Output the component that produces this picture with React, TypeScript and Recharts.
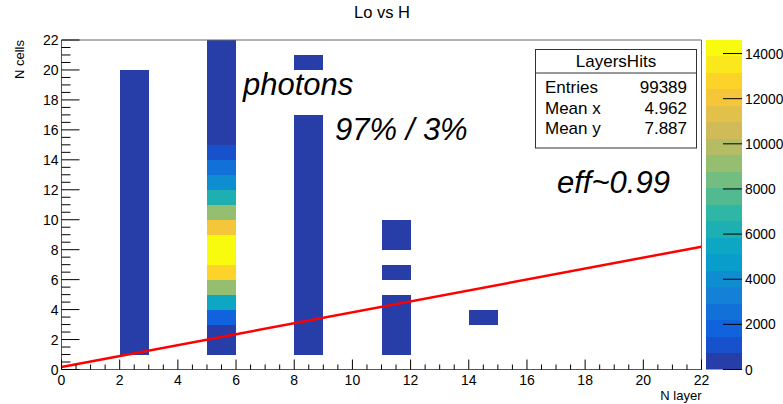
import React from 'react';
import { ComposedChart, BarChart, Bar, Line, XAxis, YAxis, ReferenceArea } from 'recharts';

// ---- data ----
const layerIndex = [2, 5, 8, 11, 14];
// hits per "N cells" bin (index = bin lower edge 0..21)
const hitsLayer2 = [0, 610, 640, 655, 630, 660, 645, 670, 650, 640, 625, 660, 635, 650, 620, 640, 615, 630, 600, 590, 0, 0];
const hitsLayer5 = [0, 300, 500, 1800, 5500, 9100, 12800, 14300, 14600, 12000, 9100, 6200, 4000, 2500, 1100, 520, 380, 260, 190, 120, 80, 40];
const hitsLayer8 = [0, 150, 140, 130, 120, 115, 110, 100, 95, 90, 85, 80, 70, 60, 50, 40, 30, 0, 0, 0, 12, 0];
const hitsLayer11 = [0, 40, 35, 30, 25, 0, 15, 0, 8, 6, 0, 0, 0, 0, 0, 0, 0, 0, 0, 0, 0, 0];
const hitsLayer14 = [0, 0, 0, 5, 0, 0, 0, 0, 0, 0, 0, 0, 0, 0, 0, 0, 0, 0, 0, 0, 0, 0];
const layerHits = [hitsLayer2, hitsLayer5, hitsLayer8, hitsLayer11, hitsLayer14];

const fitX = [0, 22];
const fitY = [0.17, 8.2];

const axisTicks = Array.from({ length: 45 }, (_, i) => i * 0.5);
const zTicks = [0, 2000, 4000, 6000, 8000, 10000, 12000, 14000];
const zMax = 14600;
const nContours = 20;

const statsName = 'LayersHits';
const statsLabels = ['Entries', 'Mean x', 'Mean y'];
const statsValues = ['99389', '4.962', '7.887'];

const FONT = '"Liberation Sans", Arial, Helvetica, sans-serif';

// ---- kBird palette ----
const birdStops = [0, 0.125, 0.25, 0.375, 0.5, 0.625, 0.75, 0.875, 1];
const birdR = [0.2082, 0.0592, 0.078, 0.0232, 0.1802, 0.5301, 0.8186, 0.9956, 0.9764];
const birdG = [0.1664, 0.3599, 0.5041, 0.6419, 0.7178, 0.7492, 0.7328, 0.7862, 0.9832];
const birdB = [0.5293, 0.8684, 0.8385, 0.7914, 0.6425, 0.4662, 0.3499, 0.1968, 0.0539];
function birdColor(p: number) {
  let i = 0;
  while (i < birdStops.length - 2 && p > birdStops[i + 1]) i++;
  const t = (p - birdStops[i]) / (birdStops[i + 1] - birdStops[i]);
  const c = (a: number[]) => Math.round(255 * (a[i] + (a[i + 1] - a[i]) * t));
  return `rgb(${c(birdR)},${c(birdG)},${c(birdB)})`;
}
function bandColor(k: number) {
  const idx = Math.floor((k + 0.99) * 255 / nContours);
  return birdColor(Math.min(idx, 254) / 254);
}
function zColor(z: number) {
  const k = Math.min(nContours - 1, Math.floor(z / (zMax / nContours)));
  return bandColor(k);
}

const cells: { x: number; y: number; z: number }[] = [];
layerHits.forEach((arr, li) => arr.forEach((z, b) => { if (z > 0) cells.push({ x: layerIndex[li], y: b, z }); }));

const lineData = fitX.map((x, i) => ({ x, y: fitY[i] }));

const bandKeys = Array.from({ length: nContours }, (_, k) => `b${k}`);
const barRow: any = { name: 'z' };
bandKeys.forEach((k) => { barRow[k] = zMax / nContours; });
const barData = [barRow];

// ---- ticks ----
const isMajor = (v: number) => Math.abs(v % 2) < 1e-9;
const YTick = (props: any) => {
  const { x, y, payload } = props;
  const v = payload.value;
  const m = isMajor(v);
  return (
    <g>
      <line x1={x} x2={x + (m ? 18 : 9)} y1={y} y2={y} stroke="#000" strokeWidth={1} />
      {m && <text x={x - 3} y={y + 5} textAnchor="end" fontSize={14} fontFamily={FONT} fill="#000">{v}</text>}
    </g>
  );
};
const XTick = (props: any) => {
  const { x, y, payload } = props;
  const v = payload.value;
  const m = isMajor(v);
  return (
    <g>
      <line x1={x} x2={x} y1={y} y2={y - (m ? 10 : 5)} stroke="#000" strokeWidth={1} />
      {m && <text x={x} y={y + 15} textAnchor="middle" fontSize={14} fontFamily={FONT} fill="#000">{v}</text>}
    </g>
  );
};
const ZTick = (props: any) => {
  const { x, y, payload } = props;
  return (
    <g>
      <line x1={x - 19} x2={x} y1={y} y2={y} stroke="#000" strokeWidth={1} />
      <text x={x + 3} y={y + 5} textAnchor="start" fontSize={13.8} fontFamily={FONT} fill="#000">{payload.value}</text>
    </g>
  );
};

export default function App() {
  return (
    <div style={{ position: 'absolute', left: 0, top: 0, width: 783, height: 404, background: '#fff', fontFamily: FONT }}>
      <div style={{ position: 'absolute', left: 0, top: 0 }}>
        <ComposedChart width={783} height={404} data={lineData}
          margin={{ top: 40, right: 81.5, bottom: 4.5, left: 11.5 }}>
          <XAxis dataKey="x" type="number" domain={[0, 22]} ticks={axisTicks} interval={0}
            allowDataOverflow height={30} tickSize={0} tickMargin={0} tick={<XTick />}
            axisLine={{ stroke: '#555' }} tickLine={false} />
          <YAxis type="number" domain={[0, 22]} ticks={axisTicks} interval={0}
            allowDataOverflow width={50} tickSize={0} tickMargin={0} tick={<YTick />}
            axisLine={{ stroke: '#555' }} tickLine={false} />
          {cells.map((c, i) => (
            <ReferenceArea key={i} x1={c.x} x2={c.x + 1} y1={c.y} y2={c.y + 1}
              fill={zColor(c.z)} fillOpacity={1} stroke="none" shapeRendering="crispEdges" ifOverflow="visible" />
          ))}
          <ReferenceArea x1={0} x2={22} y1={0} y2={22} fill="none" fillOpacity={0} stroke="#666" strokeWidth={1} />
          <Line dataKey="y" type="linear" stroke="#ff0000" strokeWidth={2.5} dot={false} activeDot={false} isAnimationActive={false} />
        </ComposedChart>
      </div>
      <div style={{ position: 'absolute', left: 706, top: 0 }}>
        <BarChart width={77} height={404} data={barData} barCategoryGap={0} barGap={0}
          margin={{ top: 40, right: 0, bottom: 34.5, left: 0 }}>
          <XAxis dataKey="name" hide />
          <YAxis orientation="right" type="number" domain={[0, zMax]} ticks={zTicks} interval={0}
            allowDataOverflow width={41} tickSize={0} tickMargin={0} tick={<ZTick />}
            axisLine={false} tickLine={false} />
          {bandKeys.map((k, i) => (
            <Bar key={k} dataKey={k} stackId="z" fill={bandColor(i)} stroke="none" shapeRendering="crispEdges" isAnimationActive={false} />
          ))}
        </BarChart>
      </div>
      <svg width={783} height={404} style={{ position: 'absolute', left: 0, top: 0, pointerEvents: 'none' }} fontFamily={FONT}>
        <text x={382} y={18} textAnchor="middle" fontSize={16.5} fill="#000">Lo vs H</text>
        <text x={24} y={40} textAnchor="end" fontSize={13} fill="#000" transform="rotate(-90 24 40)">N cells</text>
        <text x={701.5} y={400} textAnchor="end" fontSize={13} fill="#000">N layer</text>
        <text x={243} y={95} fontSize={31} fontStyle="italic" fill="#000">photons</text>
        <text x={335} y={140} fontSize={31} fontStyle="italic" fill="#000">97% / 3%</text>
        <text x={557} y={193} fontSize={31} fontStyle="italic" fill="#000">eff~0.99</text>
        <rect x={535.5} y={49.5} width={161} height={98.5} fill="#fff" stroke="#333" strokeWidth={1} />
        <line x1={535.5} x2={696.5} y1={73} y2={73} stroke="#333" strokeWidth={1} />
        <text x={616} y={67} textAnchor="middle" fontSize={17} fill="#000">{statsName}</text>
        {statsLabels.map((l, i) => (
          <text key={l} x={545} y={93 + i * 20.5} fontSize={17} fill="#000">{l}</text>
        ))}
        {statsValues.map((v, i) => (
          <text key={i} x={687} y={93 + i * 20.5} textAnchor="end" fontSize={17} fill="#000">{v}</text>
        ))}
      </svg>
    </div>
  );
}
